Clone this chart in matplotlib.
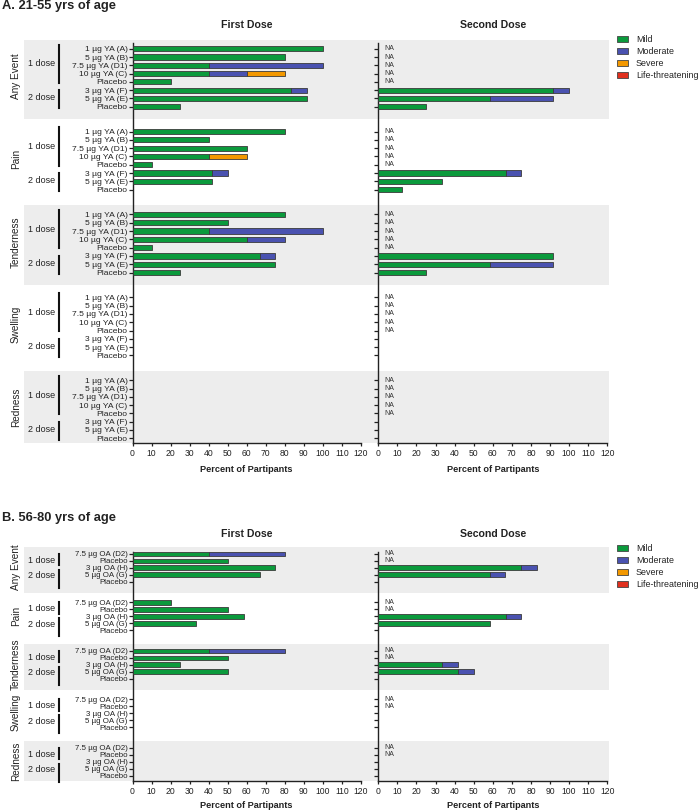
import matplotlib.pyplot as plt
import numpy as np
from matplotlib.patches import Rectangle, Patch
from matplotlib.lines import Line2D
from matplotlib.transforms import blended_transform_factory

plt.rcParams["font.family"] = ["Liberation Sans", "DejaVu Sans"]

NA = np.nan

events = ["Any Event", "Pain", "Tenderness", "Swelling", "Redness"]
severities = ["Mild", "Moderate", "Severe", "Life-threatening"]
sev_colors = ["#0b9a3c", "#4a52b0", "#f39800", "#e0301e"]

young_groups = ["1 µg YA (A)", "5 µg YA (B)", "7.5 µg YA (D1)", "10 µg YA (C)",
                "Placebo", "3 µg YA (F)", "5 µg YA (E)", "Placebo"]
old_groups = ["7.5 µg OA (D2)", "Placebo", "3 µg OA (H)", "5 µg OA (G)", "Placebo"]

# percent of participants; one row per event, one column per group
young_first_mild = [
    [100, 80, 40, 40, 20, 83.3, 91.7, 25],
    [80, 40, 60, 40, 10, 41.7, 41.7, 0],
    [80, 50, 40, 60, 10, 66.7, 75, 25],
    [0, 0, 0, 0, 0, 0, 0, 0],
    [0, 0, 0, 0, 0, 0, 0, 0],
]
young_first_moderate = [
    [0, 0, 60, 20, 0, 8.3, 0, 0],
    [0, 0, 0, 0, 0, 8.3, 0, 0],
    [0, 0, 60, 20, 0, 8.3, 0, 0],
    [0, 0, 0, 0, 0, 0, 0, 0],
    [0, 0, 0, 0, 0, 0, 0, 0],
]
young_first_severe = [
    [0, 0, 0, 20, 0, 0, 0, 0],
    [0, 0, 0, 20, 0, 0, 0, 0],
    [0, 0, 0, 0, 0, 0, 0, 0],
    [0, 0, 0, 0, 0, 0, 0, 0],
    [0, 0, 0, 0, 0, 0, 0, 0],
]
young_second_mild = [
    [NA, NA, NA, NA, NA, 91.7, 58.3, 25],
    [NA, NA, NA, NA, NA, 66.7, 33.3, 12.5],
    [NA, NA, NA, NA, NA, 91.7, 58.3, 25],
    [NA, NA, NA, NA, NA, 0, 0, 0],
    [NA, NA, NA, NA, NA, 0, 0, 0],
]
young_second_moderate = [
    [0, 0, 0, 0, 0, 8.3, 33.3, 0],
    [0, 0, 0, 0, 0, 8.3, 0, 0],
    [0, 0, 0, 0, 0, 0, 33.3, 0],
    [0, 0, 0, 0, 0, 0, 0, 0],
    [0, 0, 0, 0, 0, 0, 0, 0],
]

old_first_mild = [
    [40, 50, 75, 66.7, 0],
    [20, 50, 58.3, 33.3, 0],
    [40, 50, 25, 50, 0],
    [0, 0, 0, 0, 0],
    [0, 0, 0, 0, 0],
]
old_first_moderate = [
    [40, 0, 0, 0, 0],
    [0, 0, 0, 0, 0],
    [40, 0, 0, 0, 0],
    [0, 0, 0, 0, 0],
    [0, 0, 0, 0, 0],
]
old_second_mild = [
    [NA, NA, 75, 58.3, 0],
    [NA, NA, 66.7, 58.3, 0],
    [NA, NA, 33.3, 41.7, 0],
    [NA, NA, 0, 0, 0],
    [NA, NA, 0, 0, 0],
]
old_second_moderate = [
    [0, 0, 8.3, 8.3, 0],
    [0, 0, 8.3, 0, 0],
    [0, 0, 8.3, 8.3, 0],
    [0, 0, 0, 0, 0],
    [0, 0, 0, 0, 0],
]

W, H = 699, 811
fig = plt.figure(figsize=(W / 100, H / 100), dpi=100)
dark = "#222222"


def fx(px):
    return px / W


def fy(py):
    return 1 - py / H


panels = [
    dict(title="A. 21-55 yrs of age", title_y=6.5, head_y=25, xlab_y=469, legend_y=35,
         top=43.5, bottom=443, period=10, groups=young_groups, ylim=(47.57, -0.63),
         bar_h=0.62, band=(-1.1, 8.5), brackets=[(-0.5, 4.1), (5.0, 7.2)],
         dose_y=[1.8, 5.9], event_y=3.3, tick_fs=6.1,
         first=[young_first_mild, young_first_moderate, young_first_severe],
         second=[young_second_mild, young_second_moderate]),
    dict(title="B. 56-80 yrs of age", title_y=518, head_y=534, xlab_y=806, legend_y=544,
         top=551.5, bottom=780.7, period=7, groups=old_groups, ylim=(32.72, -0.36),
         bar_h=0.68, band=(-1.0, 5.65), brackets=[(0.0, 1.6), (2.3, 4.9)],
         dose_y=[0.87, 3.17], event_y=1.9, tick_fs=5.7,
         first=[old_first_mild, old_first_moderate],
         second=[old_second_mild, old_second_moderate]),
]

handles = [Patch(facecolor=c, edgecolor="#444444", linewidth=0.6) for c in sev_colors]

for p in panels:
    h_frac = (p["bottom"] - p["top"]) / H
    ax1 = fig.add_axes([fx(132.5), fy(p["bottom"]), fx(228.5), h_frac])
    ax2 = fig.add_axes([fx(378.3), fy(p["bottom"]), fx(229), h_frac])
    n = len(p["groups"])
    ypos = np.array([e * p["period"] + g for e in range(len(events)) for g in range(n)])

    for ax, series in [(ax1, p["first"]), (ax2, p["second"])]:
        ax.set_facecolor("none")
        left = np.zeros(len(ypos))
        for k, s in enumerate(series):
            vals = np.array(s, dtype=float).ravel()
            w = np.nan_to_num(vals)
            mask = w > 0
            ax.barh(ypos[mask], w[mask], left=left[mask], height=p["bar_h"],
                    color=sev_colors[k], edgecolor="#3a3a3a", linewidth=0.6, zorder=3)
            left += w
        na = np.isnan(np.array(series[0], dtype=float).ravel())
        for y in ypos[na]:
            ax.text(3, y, "NA", fontsize=5, color="#333333", ha="left", va="center")

        ax.set_xlim(0, 120)
        ax.set_ylim(*p["ylim"])
        ax.set_xticks(np.arange(0, 121, 10))
        ax.set_yticks(ypos)
        ax.spines["top"].set_visible(False)
        ax.spines["right"].set_visible(False)
        for side in ["left", "bottom"]:
            ax.spines[side].set_linewidth(1.0)
            ax.spines[side].set_color(dark)
        ax.tick_params(axis="x", direction="out", length=2.5, width=0.9, colors=dark,
                       labelsize=6.2, pad=2)
        ax.tick_params(axis="y", direction="out", length=3, width=0.9, colors=dark,
                       labelsize=p["tick_fs"], pad=0.5)

    ax1.set_yticklabels(p["groups"] * len(events))
    ax2.set_yticklabels([])

    # shaded bands behind every other event
    tr = blended_transform_factory(fig.transFigure, ax1.transData)
    for e in range(0, len(events), 2):
        y0 = e * p["period"] + p["band"][0]
        y1 = min(e * p["period"] + p["band"][1], p["ylim"][0])
        fig.add_artist(Rectangle((fx(24), y0), fx(609) - fx(24), y1 - y0, transform=tr,
                                 facecolor="#ededed", edgecolor="none", zorder=-5))

    # event and dose labels with brackets
    for e, name in enumerate(events):
        base = e * p["period"]
        ax1.text(fx(15.7), base + p["event_y"], name, transform=tr, rotation=90,
                 ha="center", va="center", fontsize=7.2, color=dark)
        for (b0, b1), dy, lab in zip(p["brackets"], p["dose_y"], ["1 dose", "2 dose"]):
            fig.add_artist(Line2D([fx(59.3), fx(59.3)], [base + b0, base + b1],
                                  transform=tr, color="#111111", linewidth=1.5))
            ax1.text(fx(42), base + dy, lab, transform=tr, ha="center", va="center",
                     fontsize=6.5, color=dark)

    fig.text(fx(2), fy(p["title_y"]), p["title"], ha="left", va="center",
             fontsize=9.3, fontweight="bold", color=dark)
    fig.text(fx(246.5), fy(p["head_y"]), "First Dose", ha="center", va="center",
             fontsize=7.6, fontweight="bold", color=dark)
    fig.text(fx(493), fy(p["head_y"]), "Second Dose", ha="center", va="center",
             fontsize=7.6, fontweight="bold", color=dark)
    for xc in [246.5, 493]:
        fig.text(fx(xc), fy(p["xlab_y"]), "Percent of Partipants", ha="center",
                 va="center", fontsize=6.6, fontweight="bold", color=dark)

    fig.legend(handles, severities, loc="upper left",
               bbox_to_anchor=(fx(616.7), fy(p["legend_y"])), frameon=False,
               fontsize=6.4, handlelength=1.3, handleheight=0.7, handletextpad=0.85,
               labelspacing=0.35, borderpad=0, borderaxespad=0, labelcolor=dark)

fig.savefig("out.png", dpi=100)
